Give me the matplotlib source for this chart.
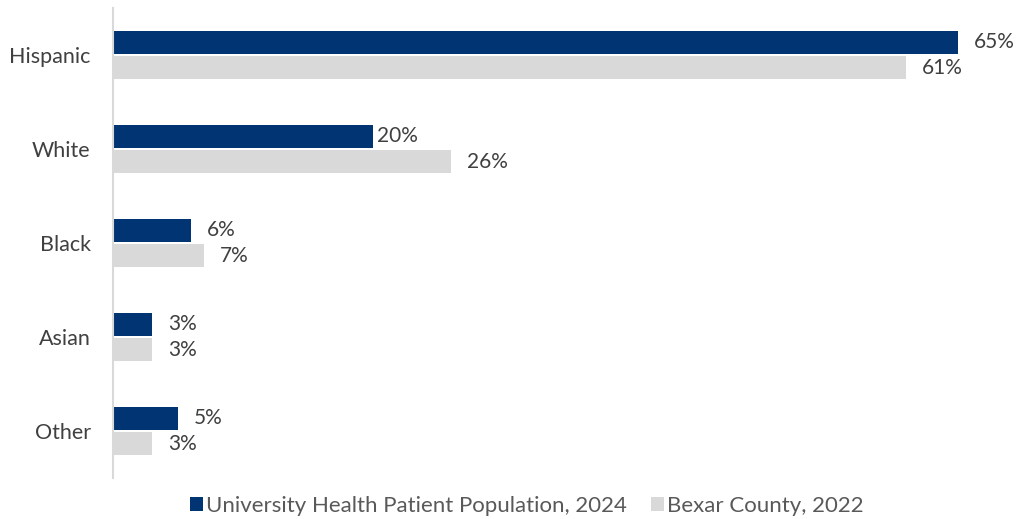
import matplotlib
matplotlib.use("Agg")
import matplotlib.pyplot as plt
from matplotlib.patches import Patch

plt.rcParams['font.family'] = ['Lato', 'DejaVu Sans']

categories = ["Hispanic", "White", "Black", "Asian", "Other"]
uh_patients_2024 = [65, 20, 6, 3, 5]
bexar_county_2022 = [61, 26, 7, 3, 3]
series_names = ["University Health Patient Population, 2024", "Bexar County, 2022"]

navy = "#003473"
light_gray = "#D9D9D9"
text_color = "#404040"
legend_text_color = "#595959"

fig = plt.figure(figsize=(10.19, 5.19), dpi=100)
ax = fig.add_axes([113 / 1019, 41 / 519, 890 / 1019, 470 / 519])

bar_h = 0.245
offset = 0.138
ys = list(range(len(categories)))

ax.barh([y - offset for y in ys], uh_patients_2024, height=bar_h, color=navy)
ax.barh([y + offset for y in ys], bexar_county_2022, height=bar_h, color=light_gray)

# value labels sit a fixed distance past the bar end; the White patient label hugs its bar
label_gap = 11.5
for i, (y, v) in enumerate(zip(ys, uh_patients_2024)):
    gap = 3 if categories[i] == "White" else label_gap
    ax.annotate(f"{v}%", (v, y - offset), xytext=(gap, 0), textcoords="offset points",
                va="center", ha="left", fontsize=15, color=text_color)
for y, v in zip(ys, bexar_county_2022):
    ax.annotate(f"{v}%", (v, y + offset), xytext=(label_gap, 0), textcoords="offset points",
                va="center", ha="left", fontsize=15, color=text_color)

ax.set_xlim(0, 890 / 13)
ax.set_ylim(len(categories) - 0.5, -0.5)
ax.set_yticks(ys)
ax.set_yticklabels(categories, fontsize=15.5, color=text_color)
ax.tick_params(axis="y", length=0, pad=16)
ax.set_xticks([])
for side in ["top", "right", "bottom"]:
    ax.spines[side].set_visible(False)
ax.spines["left"].set_color("#D9D9D9")
ax.spines["left"].set_linewidth(1.5)

handles = [Patch(facecolor=navy), Patch(facecolor=light_gray)]
fig.legend(handles, series_names, loc="center", bbox_to_anchor=(527 / 1019, 1 - 506 / 519),
           ncol=2, frameon=False, fontsize=16, labelcolor=legend_text_color,
           handlelength=0.55, handleheight=0.55, handletextpad=0.15, columnspacing=1.1)

fig.savefig("out.png", dpi=100)
